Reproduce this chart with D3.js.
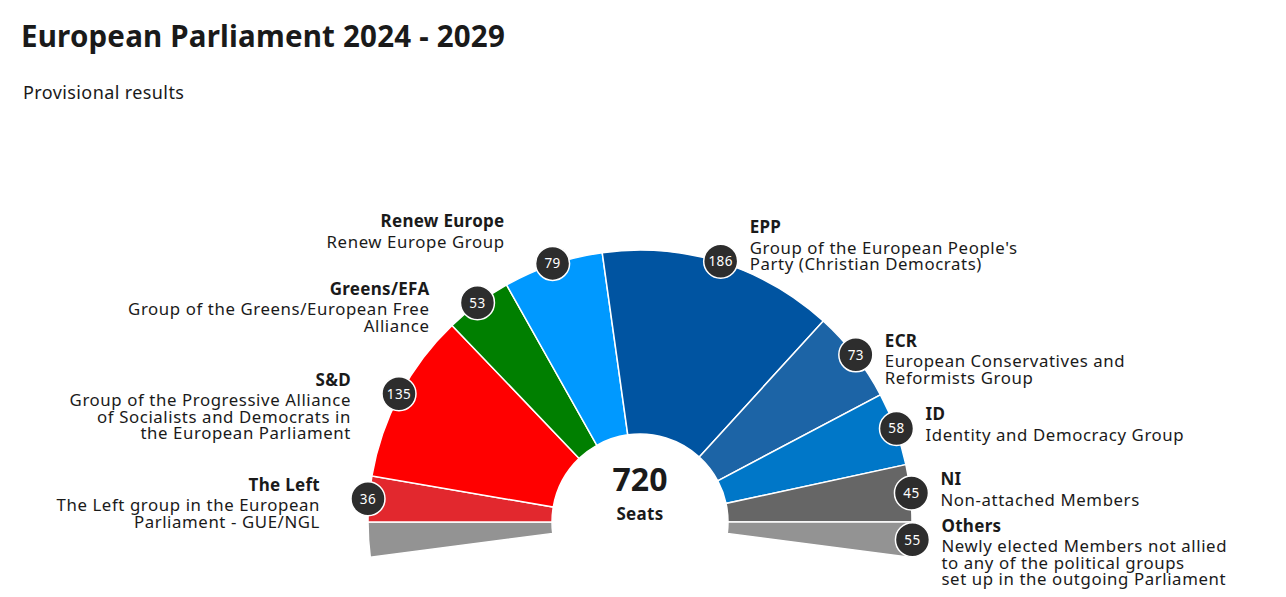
<!DOCTYPE html>
<html>
<head>
<meta charset="utf-8">
<script src="https://cdn.jsdelivr.net/npm/d3@7"></script>
<style>
  body { margin: 0; background: #fff; }
  text { font-family: "Noto Sans", "Open Sans", sans-serif; fill: #1a1a1a; }
  .title { font-size: 29.5px; font-weight: 700; letter-spacing: 0.2px; }
  .subtitle { font-size: 18px; letter-spacing: 0.4px; }
  .grpName { font-size: 17px; font-weight: 700; letter-spacing: 0.3px; }
  .grpDesc { font-size: 16.8px; letter-spacing: 0.6px; }
  .badge text { fill: #fff; font-size: 13.5px; letter-spacing: 0.4px; }
</style>
</head>
<body>
<div id="chart"></div>
<script>
// seats per group, left to right (Others is split on both ends)
var groups = ["The Left", "S&D", "Greens/EFA", "Renew Europe", "EPP", "ECR", "ID", "NI", "Others"];
var seats = [36, 135, 53, 79, 186, 73, 58, 45, 55];
var colors = ["#e2282e", "#ff0000", "#007f00", "#0099ff", "#0054a1", "#1c64a6", "#0077c8", "#666666", "#939393"];
var descriptions = [
    ["The Left group in the European", "Parliament - GUE/NGL"],
    ["Group of the Progressive Alliance", "of Socialists and Democrats in", "the European Parliament"],
    ["Group of the Greens/European Free", "Alliance"],
    ["Renew Europe Group"],
    ["Group of the European People's", "Party (Christian Democrats)"],
    ["European Conservatives and", "Reformists Group"],
    ["Identity and Democracy Group"],
    ["Non-attached Members"],
    ["Newly elected Members not allied", "to any of the political groups", "set up in the outgoing Parliament"]
];
var totalSeats = d3.sum(seats);

var width = 1286, height = 597;
var cx = 640, cy = 522;
var innerR = 88, outerR = 272;

var svg = d3.select('#chart')
    .append('svg')
    .attr('width', width)
    .attr('height', height);

svg.append('text').attr('class', 'title').attr('x', 21).attr('y', 47).text('European Parliament 2024 - 2029');
svg.append('text').attr('class', 'subtitle').attr('x', 23).attr('y', 99).text('Provisional results');

// everything except "Others" fills the half circle
var others = seats[seats.length - 1];
var mainSeats = totalSeats - others;
var angle = d3.scaleLinear().domain([0, mainSeats]).range([-Math.PI / 2, Math.PI / 2]);

var segs = [];
var cum = 0;
for (var i = 0; i < groups.length - 1; i++) {
    segs.push({i: i, a0: angle(cum), a1: angle(cum + seats[i]), badge: true});
    cum += seats[i];
}
// Others: half on each side, below the horizontal
segs.unshift({i: groups.length - 1, a0: angle(-others / 2), a1: angle(0), badge: false});
segs.push({i: groups.length - 1, a0: angle(mainSeats), a1: angle(mainSeats + others / 2), badge: true});

var arc = d3.arc().innerRadius(innerR).outerRadius(outerR);

var g = svg.append('g').attr('transform', 'translate(' + cx + ',' + cy + ')');

g.selectAll('path.seg')
    .data(segs)
    .enter()
    .append('path')
    .attr('class', 'seg')
    .attr('d', function(d) { return arc({startAngle: d.a0, endAngle: d.a1}); })
    .attr('fill', function(d) { return colors[d.i]; })
    .attr('stroke', '#fff')
    .attr('stroke-width', 1.5);

// total in the middle
g.append('text').attr('text-anchor', 'middle').attr('y', -31)
    .style('font-size', '32px').style('font-weight', 700).text(totalSeats);
g.append('text').attr('text-anchor', 'middle').attr('y', -2)
    .style('font-size', '17px').style('font-weight', 700).style('letter-spacing', '0.3px').text('Seats');

// badges with seat counts
var badgeR = 273;
var withBadge = segs.filter(function(d) { return d.badge; });
withBadge.forEach(function(d) {
    var mid = (d.a0 + d.a1) / 2;
    d.bx = badgeR * Math.sin(mid);
    d.by = -badgeR * Math.cos(mid);
});

var badges = g.selectAll('g.badge')
    .data(withBadge)
    .enter()
    .append('g')
    .attr('class', 'badge')
    .attr('transform', function(d) { return 'translate(' + d.bx + ',' + d.by + ')'; });

badges.append('circle')
    .attr('r', 17)
    .attr('fill', '#2d2d2d')
    .attr('stroke', '#fff')
    .attr('stroke-width', 1.5);

badges.append('text')
    .attr('text-anchor', 'middle')
    .attr('dy', '0.36em')
    .text(function(d) { return seats[d.i]; });

// group labels next to badges; two on top get pushed up
var liftUp = {"Renew Europe": -36, "EPP": -28};

var labels = g.selectAll('g.label')
    .data(withBadge)
    .enter()
    .append('g')
    .attr('class', 'label')
    .attr('transform', function(d) {
        var left = d.bx < 0;
        var dy = liftUp[groups[d.i]] || -8;
        return 'translate(' + (d.bx + (left ? -48 : 29)) + ',' + (d.by + dy) + ')';
    })
    .attr('text-anchor', function(d) { return d.bx < 0 ? 'end' : 'start'; });

labels.append('text')
    .attr('class', 'grpName')
    .text(function(d) { return groups[d.i]; });

labels.each(function(d) {
    var t = d3.select(this);
    descriptions[d.i].forEach(function(line, k) {
        t.append('text')
            .attr('class', 'grpDesc')
            .attr('y', 20.5 + k * 16.5)
            .text(line);
    });
});
</script>
</body>
</html>
